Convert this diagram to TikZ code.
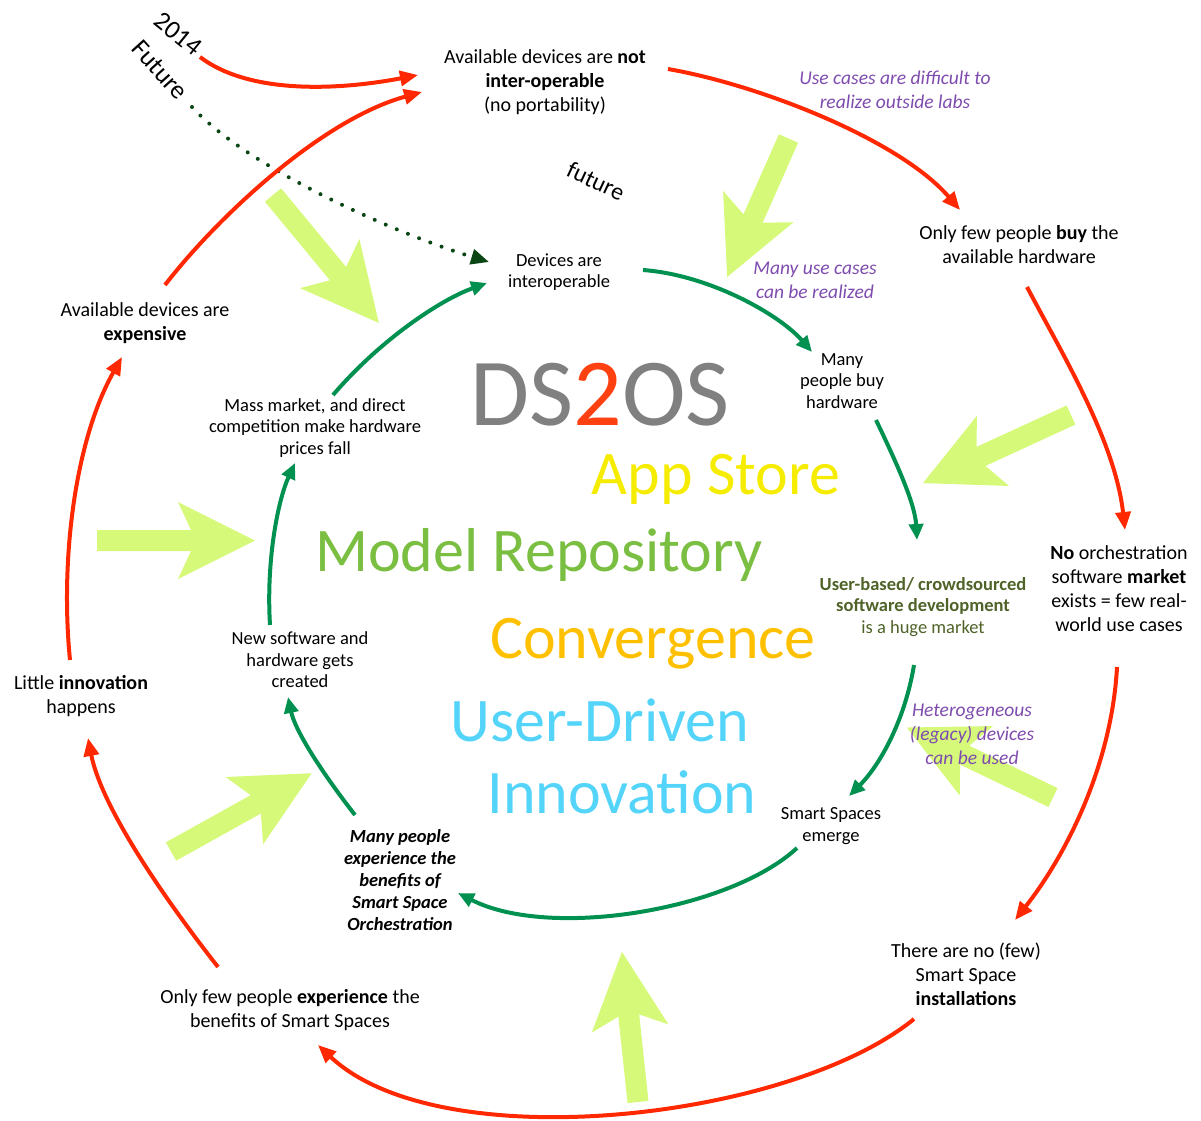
\documentclass[tikz,border=0pt]{standalone}
\usepackage{fontspec}
\setmainfont{Carlito}
\usetikzlibrary{arrows.meta,calc}
\definecolor{redc}{RGB}{255,40,0}
\definecolor{greenc}{RGB}{0,145,80}
\definecolor{dotc}{RGB}{10,70,20}
\definecolor{lgreen}{RGB}{214,249,122}
\definecolor{purp}{RGB}{126,75,174}
\definecolor{dkgreen}{RGB}{79,98,40}
\definecolor{dsgray}{RGB}{128,128,128}
\definecolor{dstwo}{RGB}{255,64,16}
\definecolor{appyel}{RGB}{245,236,0}
\definecolor{modgreen}{RGB}{122,190,66}
\definecolor{convorange}{RGB}{255,192,0}
\definecolor{usercyan}{RGB}{85,212,250}
\newcommand\lgarrow[4]{\fill[lgreen,shift={(#1,#2)},rotate=#3] (0,-10.5) -- ({#4-64},-10.5) -- ({#4-77},-38.5) -- (#4,0) -- ({#4-77},38.5) -- ({#4-64},10.5) -- (0,10.5) -- cycle;}
\begin{document}
\begin{tikzpicture}[x=1pt,y=-1pt,
  outer/.style={align=center,inner sep=2pt,font=\fontsize{20}{24}\selectfont},
  inner/.style={align=center,inner sep=2pt,font=\fontsize{18.5}{21.5}\selectfont},
  purptext/.style={align=center,inner sep=2pt,text=purp,font=\fontsize{19.5}{24}\selectfont\itshape},
  big/.style={anchor=base,inner sep=0pt,font=\fontsize{62}{62}\selectfont},
  yearlbl/.style={inner sep=1pt,font=\fontsize{26}{26}\selectfont},
  redarrow/.style={draw=redc,line width=4pt,-{Triangle[length=18pt,width=15pt]}},
  greenarrow/.style={draw=greenc,line width=4pt,-{Triangle[length=16pt,width=14pt]}},
  dotarrow/.style={draw=dotc,line width=4pt,line cap=round,dash pattern=on 0pt off 12pt,-{Triangle[length=18pt,width=15pt]}}
]
\useasboundingbox (0,0) rectangle (1201,1120);

% light green big arrows
\lgarrow{273}{195}{-50.4}{166}
\lgarrow{788.5}{138.5}{-113.9}{151.5}
\lgarrow{1071}{415}{-155.3}{163}
\lgarrow{1053}{797.5}{154.4}{162}
\lgarrow{97}{540.5}{0}{158}
\lgarrow{171}{851.5}{29.1}{161}
\lgarrow{638}{1102}{96.1}{151}

% big labels
\node[inner sep=0pt,font=\fontsize{96}{96}\selectfont,text=dsgray] (ds2os) at (600,395) {DS\textcolor{dstwo}{2}OS};
\node[big,text=appyel] (appstore) at (716,494) {App Store};
\node[big,text=modgreen] (modrepo) at (539,571) {Model Repository};
\node[big,text=convorange] (converge) at (653,658) {Convergence};
\node[big,text=usercyan] (userdriven) at (600,741) {User-Driven};
\node[big,text=usercyan] (innov) at (622,813) {Innovation};

% year labels
\node[yearlbl,rotate=-39] (y2014) at (178,34) {2014};
\node[yearlbl,rotate=-48] (futurelbl) at (160,70) {Future};
\node[yearlbl,rotate=-25,font=\fontsize{24}{24}\selectfont] (futuresmall) at (596,181) {future};

% outer nodes
\node[outer] (notinter) at (545,82) {Available devices are \textbf{not}\\\textbf{inter-operable}\\(no portability)};
\node[outer] (fewbuy) at (1019,245) {Only few people \textbf{buy} the\\available hardware};
\node[outer] (noorch) at (1119,589) {\textbf{No} orchestration\\software \textbf{market}\\exists = few real-\\world use cases};
\node[outer] (noinstall) at (966,974) {There are no (few)\\Smart Space\\\textbf{installations}};
\node[outer] (fewexp) at (290,1010) {Only few people \textbf{experience} the\\benefits of Smart Spaces};
\node[outer] (littleinn) at (81,696) {Little \textbf{innovation}\\happens};
\node[outer] (expensive) at (145,323) {Available devices are\\\textbf{expensive}};

% inner nodes
\node[inner] (interop) at (559,272) {Devices are\\interoperable};
\node[inner] (manybuy) at (842,381) {Many\\people buy\\hardware};
\node[inner,text=dkgreen] (userbased) at (923,607) {\textbf{User-based/ crowdsourced}\\\textbf{software development}\\is a huge market};
\node[inner] (emerge) at (831,826) {Smart Spaces\\emerge};
\node[inner,font=\fontsize{18.5}{22}\selectfont\bfseries\itshape] (manyexp) at (400,880) {Many people\\experience the\\benefits of\\Smart Space\\Orchestration};
\node[inner] (newsw) at (300,660) {New software and\\hardware gets\\created};
\node[inner] (massmkt) at (315,428) {Mass market, and direct\\competition make hardware\\prices fall};

% purple labels
\node[purptext] (usecases) at (895,90) {Use cases are difficult to\\realize outside labs};
\node[purptext] (manyuse) at (815,280) {Many use cases\\can be realized};
\node[purptext] (hetero) at (972,734) {Heterogeneous\\(legacy) devices\\can be used};

% dotted arrow
\draw[dotarrow] ($(futurelbl)+(32,37)$) .. controls (250,170) and (400,235) .. ($(interop)+(-70,-10)$);

% red cycle
\draw[redarrow] ($(y2014)+(22,23)$) .. controls (250,95) and (340,90) .. ($(notinter)+(-127,-7)$);
\draw[redarrow] ($(expensive)+(20,-38)$) .. controls (215,220) and (320,120) .. ($(notinter)+(-123,10)$);
\draw[redarrow] ($(notinter)+(123,-13)$) .. controls (760,85) and (900,140) .. ($(fewbuy)+(-59,-35)$);
\draw[redarrow] ($(fewbuy)+(8,42)$) .. controls (1060,350) and (1115,440) .. ($(noorch)+(6,-59)$);
\draw[redarrow] ($(noorch)+(-2,78)$) .. controls (1112,760) and (1070,850) .. ($(noinstall)+(49,-54)$);
\draw[redarrow] ($(noinstall)+(-52,45)$) .. controls (790,1120) and (440,1160) .. ($(fewexp)+(28,35)$);
\draw[redarrow] ($(fewexp)+(-72,-43)$) .. controls (150,880) and (100,800) .. ($(littleinn)+(7,42)$);
\draw[redarrow] ($(littleinn)+(-11,-36)$) .. controls (60,560) and (75,440) .. ($(expensive)+(-23,34)$);

% green cycle
\draw[greenarrow] ($(interop)+(84,-2)$) .. controls (710,275) and (780,315) .. ($(manybuy)+(-30,-29)$);
\draw[greenarrow] ($(manybuy)+(34,39)$) .. controls (900,470) and (915,505) .. ($(userbased)+(-6,-67)$);
\draw[greenarrow] ($(userbased)+(-9,58)$) .. controls (905,720) and (880,765) .. ($(emerge)+(18,-30)$);
\draw[greenarrow] ($(emerge)+(-34,22)$) .. controls (730,910) and (550,940) .. ($(manyexp)+(58,13)$);
\draw[greenarrow] ($(manyexp)+(-45,-65)$) .. controls (320,770) and (295,730) .. ($(newsw)+(-12,37)$);
\draw[greenarrow] ($(newsw)+(-30,-35)$) .. controls (266,560) and (278,500) .. ($(massmkt)+(-20,35)$);
\draw[greenarrow] ($(massmkt)+(18,-33)$) .. controls (380,340) and (440,300) .. ($(interop)+(-72,11)$);
\end{tikzpicture}
\end{document}
